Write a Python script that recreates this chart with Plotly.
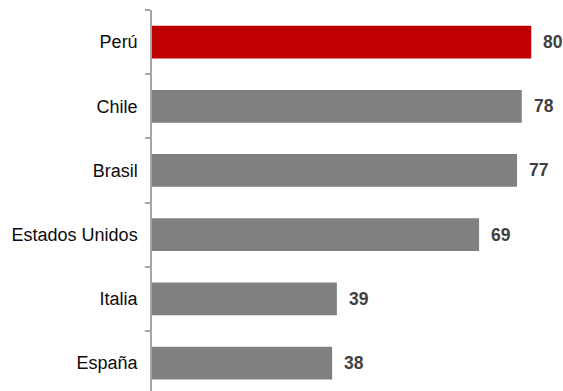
import plotly.graph_objects as go

# Country scores, listed top to bottom as shown
countries = ["Perú", "Chile", "Brasil", "Estados Unidos", "Italia", "España"]
scores = [80, 78, 77, 69, 39, 38]
bar_colors = ["#C00000", "#808080", "#808080", "#808080", "#808080", "#808080"]

fig = go.Figure(
    go.Bar(
        x=scores,
        y=countries,
        orientation="h",
        marker=dict(color=bar_colors, line=dict(width=0)),
        width=0.51,
        hoverinfo="skip",
    )
)

# Value labels to the right of each bar
for c, v in zip(countries, scores):
    fig.add_annotation(
        x=v, y=c, text=f"<b>{v}</b>", showarrow=False,
        xanchor="left", xshift=10,
        font=dict(family="Liberation Sans, Arial, sans-serif", size=17.5, color="#404040"),
    )

fig.update_layout(
    width=563, height=391,
    margin=dict(l=152, r=0, t=10, b=0),
    plot_bgcolor="white", paper_bgcolor="white",
    showlegend=False,
    font=dict(family="Liberation Sans, Arial, sans-serif", size=18, color="#0d0d0d"),
)
fig.update_xaxes(range=[0, 86.7], visible=False, fixedrange=True)
fig.update_yaxes(
    type="category",
    categoryorder="array", categoryarray=countries,
    range=[5.435, -0.5],
    showline=True, linecolor="#A6A6A6", linewidth=1.5,
    ticks="outside", tickson="boundaries", ticklen=5, tickcolor="#A6A6A6", tickwidth=1.5,
    showgrid=False, zeroline=False, fixedrange=True,
    ticklabelstandoff=9,
)

fig.write_html("out.html")
